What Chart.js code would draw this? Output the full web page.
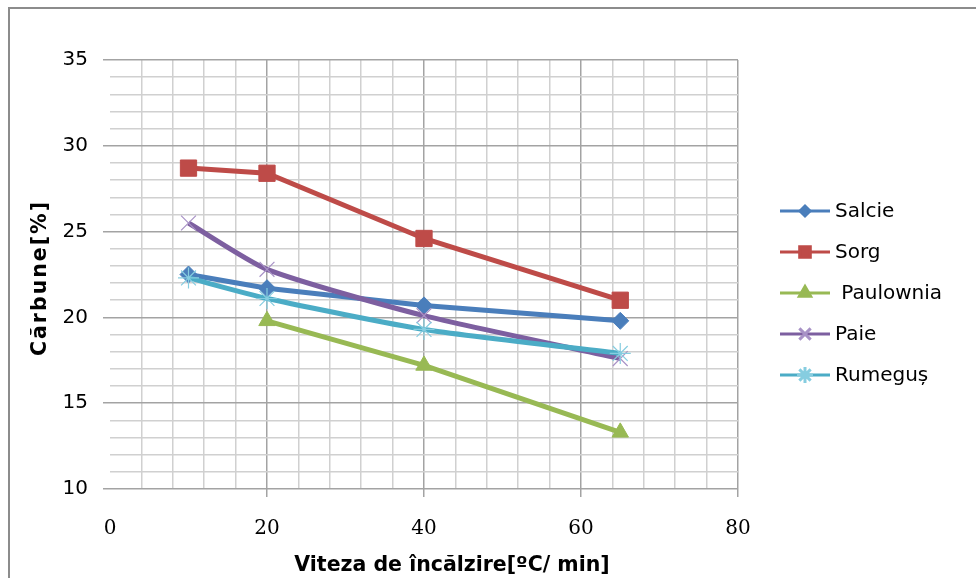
<!DOCTYPE html>
<html>
<head>
<meta charset="utf-8">
<script src="https://cdn.jsdelivr.net/npm/chart.js@4/dist/chart.umd.min.js"></script>
<style>
  html, body { margin: 0; padding: 0; background: #fff; overflow: hidden; }
  #chart { position: absolute; left: 0; top: 0; }
</style>
</head>
<body>
<canvas id="chart" width="976" height="578"></canvas>
<script>
// Heating rate (°C/min) and char yield (%) per biomass type
const rates = [10, 20, 40, 65];
const ratesPaulownia = [20, 40, 65];
const salcie = [22.5, 21.7, 20.7, 19.8];
const sorg = [28.7, 28.4, 24.6, 21.0];
const paulownia = [19.8, 17.2, 13.3];
const paie = [25.5, 22.8, 20.1, 17.6];
const rumegus = [22.3, 21.1, 19.3, 17.9];

const seriesNames = ['Salcie', 'Sorg', ' Paulownia', 'Paie', 'Rumeguș'];
const xTickLabels = [0, 20, 40, 60, 80];
const yTickLabels = [10, 15, 20, 25, 30, 35];

const xTitle = 'Viteza de încălzire[ºC/ min]';
const yTitle = 'Cărbune[%]';

const pts = (xs, ys) => xs.map((x, i) => ({ x: x, y: ys[i] }));

const MAJOR = '#a3a3a3';
const MINOR = '#d0d0d0';

const series = [
  { label: seriesNames[0], data: pts(rates, salcie), color: '#4a7ebb', mark: '#4a7ebb',
    style: 'rectRot', r: 8.5, lr: 5, bw: 1, fill: true, tension: 0 },
  { label: seriesNames[1], data: pts(rates, sorg), color: '#be4b48', mark: '#be4b48',
    style: 'rect', r: 11.5, lr: 7.5, bw: 1, fill: true, tension: 0 },
  { label: seriesNames[2], data: pts(ratesPaulownia, paulownia), color: '#98b954', mark: '#98b954',
    style: 'triangle', r: 9.5, lr: 6.5, bw: 1, fill: true, tension: 0 },
  { label: seriesNames[3], data: pts(rates, paie), color: '#7d5fa0', mark: '#a892c6',
    style: 'crossRot', r: 10.5, lr: 8, bw: 1.2, fill: false, tension: 0.2 },
  { label: seriesNames[4], data: pts(rates, rumegus), color: '#4bacc6', mark: '#86cde0',
    style: 'star', r: 10.5, lr: 8, bw: 1.2, fill: false, tension: 0.2 }
];

const datasets = series.map((s, i) => ({
  label: s.label,
  data: s.data,
  borderColor: s.color,
  backgroundColor: s.color,
  borderWidth: 5,
  tension: s.tension,
  pointStyle: s.style,
  pointRadius: s.r,
  pointHoverRadius: s.r,
  pointBorderWidth: s.bw,
  pointBorderColor: s.mark,
  pointBackgroundColor: s.fill ? s.mark : 'transparent',
  order: series.length - i
}));

// Outer frame (left and top edges only)
const frame = {
  id: 'frame',
  beforeDraw(chart) {
    const ctx = chart.ctx;
    ctx.save();
    ctx.strokeStyle = '#8c8c8c';
    ctx.lineWidth = 2;
    ctx.beginPath();
    ctx.moveTo(9, chart.height);
    ctx.lineTo(9, 8);
    ctx.lineTo(chart.width, 8);
    ctx.stroke();
    ctx.restore();
  }
};

// Legend at the right and both axis titles
const decorations = {
  id: 'decorations',
  afterDraw(chart) {
    const ctx = chart.ctx;
    ctx.save();
    ctx.font = '20px "DejaVu Sans"';
    ctx.textBaseline = 'middle';
    ctx.textAlign = 'left';
    series.forEach((s, i) => {
      const y = 211 + i * 41;
      ctx.strokeStyle = s.color;
      ctx.lineWidth = 3;
      ctx.beginPath();
      ctx.moveTo(780, y);
      ctx.lineTo(830, y);
      ctx.stroke();
      ctx.fillStyle = s.mark;
      ctx.strokeStyle = s.mark;
      Chart.helpers.drawPoint(ctx, {
        pointStyle: s.style, radius: s.lr, rotation: 0, borderWidth: s.bw
      }, 805, y);
      ctx.fillStyle = '#000';
      ctx.fillText(s.label, 835, y + 1);
    });

    ctx.font = 'bold 20.5px "DejaVu Sans"';
    ctx.textAlign = 'center';
    ctx.textBaseline = 'alphabetic';
    ctx.fillText(xTitle, 452, 571);

    ctx.letterSpacing = '2px';
    ctx.translate(46, 278);
    ctx.rotate(-Math.PI / 2);
    ctx.fillText(yTitle, 0, 0);
    ctx.restore();
  }
};

new Chart(document.getElementById('chart'), {
  type: 'line',
  data: { datasets: datasets },
  options: {
    responsive: false,
    animation: false,
    layout: { padding: { left: 0, top: 60, right: 238, bottom: 0 } },
    plugins: { legend: { display: false }, tooltip: { enabled: false } },
    scales: {
      x: {
        type: 'linear',
        min: 0,
        max: 80,
        afterFit: (s) => { s.height = 89; },
        border: { display: false },
        grid: {
          color: (c) => c.tick.value === 0 ? 'transparent' : (c.tick.value % 20 === 0 ? MAJOR : MINOR),
          tickColor: (c) => (c.tick.value % 20 === 0 && c.tick.value !== 0) ? MAJOR : 'transparent',
          tickLength: 8,
          lineWidth: 1.5
        },
        ticks: {
          stepSize: 4,
          autoSkip: false,
          maxRotation: 0,
          padding: 20,
          color: '#000',
          font: { family: '"DejaVu Serif"', size: 20 },
          callback: (v) => xTickLabels.includes(v) ? String(v) : ''
        }
      },
      y: {
        type: 'linear',
        min: 10,
        max: 35,
        afterFit: (s) => { s.width = 110; },
        border: { display: false },
        grid: {
          color: (c) => c.tick.value % 5 === 0 ? MAJOR : MINOR,
          tickColor: (c) => c.tick.value % 5 === 0 ? MAJOR : 'transparent',
          tickLength: 7,
          lineWidth: 1.5
        },
        ticks: {
          stepSize: 1,
          autoSkip: false,
          padding: 15,
          color: '#000',
          font: { family: '"DejaVu Sans"', size: 20 },
          callback: (v) => yTickLabels.includes(v) ? String(v) : ''
        }
      }
    }
  },
  plugins: [frame, decorations]
});
</script>
</body>
</html>
